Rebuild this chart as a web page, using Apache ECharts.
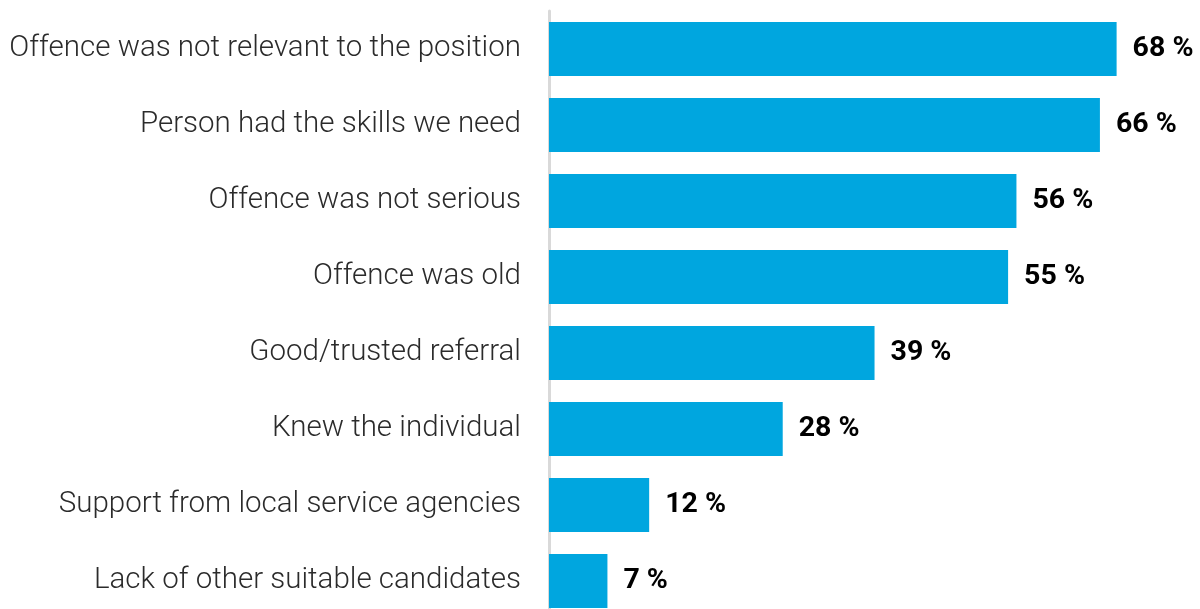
<!DOCTYPE html>
<html>
<head>
<meta charset="utf-8">
<script src="https://cdn.jsdelivr.net/npm/echarts@6/dist/echarts.min.js"></script>
<style>
  html, body { margin: 0; padding: 0; background: #fff; overflow: hidden; }
  #chart { width: 1200px; height: 619px; }
</style>
</head>
<body>
<div id="chart"></div>
<script>
// Reasons for hiring a person with a criminal record (share of respondents)
const categories = [
  'Offence was not relevant to the position',
  'Person had the skills we need',
  'Offence was not serious',
  'Offence was old',
  'Good/trusted referral',
  'Knew the individual',
  'Support from local service agencies',
  'Lack of other suitable candidates'
];
const values = [68, 66, 56, 55, 39, 28, 12, 7];

const chart = echarts.init(document.getElementById('chart'), null, { renderer: 'canvas' });
chart.setOption({
  animation: false,
  grid: { left: 549, width: 601, top: 11, bottom: 0, containLabel: false },
  xAxis: {
    type: 'value', min: 0, max: 72,
    show: false
  },
  yAxis: {
    type: 'category',
    data: categories,
    inverse: true,
    axisLine: { show: true, lineStyle: { color: '#d9d9d9', width: 3 } },
    axisTick: { show: false },
    axisLabel: {
      margin: 28,
      color: '#2b2b2b',
      fontFamily: 'Roboto',
      fontWeight: 300,
      fontSize: 29.5
    }
  },
  series: [{
    type: 'bar',
    data: values,
    barWidth: 54,
    itemStyle: { color: '#00a6df' },
    label: {
      show: true,
      position: 'right',
      distance: 16,
      formatter: '{c} %',
      color: '#000',
      fontFamily: 'Roboto',
      fontWeight: 'bold',
      fontSize: 28.5
    }
  }]
});
</script>
</body>
</html>
